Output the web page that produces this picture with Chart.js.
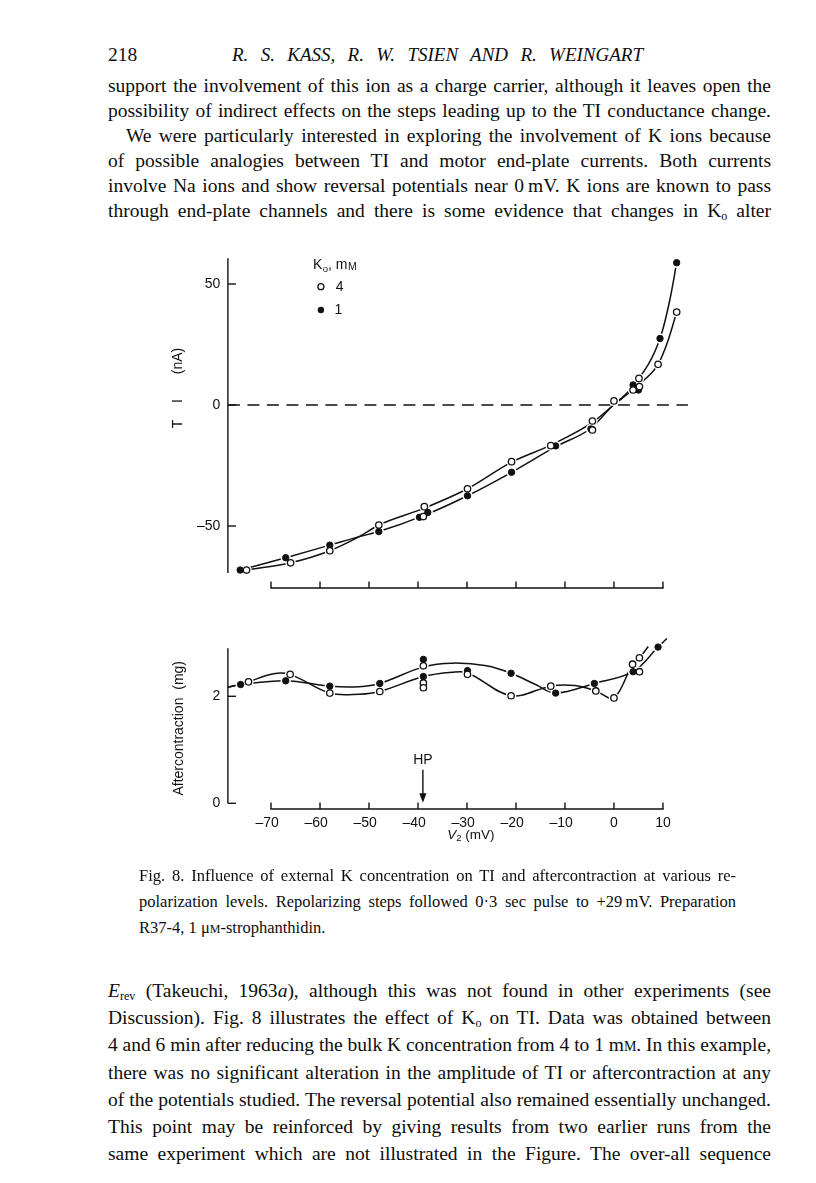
<!DOCTYPE html>
<html><head><meta charset="utf-8">
<script src="https://cdn.jsdelivr.net/npm/chart.js@4.4.1/dist/chart.umd.min.js"></script>
<style>
html,body{margin:0;padding:0;background:#fff;}
body{width:816px;height:1183px;position:relative;overflow:hidden;font-family:"Liberation Serif","Times New Roman",serif;color:#0d0d0d;}
.ln{position:absolute;left:108px;width:663px;font-size:19.5px;line-height:22px;text-align:justify;text-align-last:justify;}
.cap{position:absolute;left:139px;width:597px;font-size:16.5px;line-height:18px;text-align:justify;text-align-last:justify;}
.left{text-align-last:left;}
sub{font-size:0.62em;vertical-align:-0.28em;line-height:0;}
.sc{font-variant:small-caps;}
canvas{position:absolute;left:0;}
</style></head><body>

<div class="ln left" style="top:44px;">218</div>
<div class="ln fit" style="top:44px;left:232px;width:411px;font-style:italic;font-size:19px;">R. S. KASS, R. W. TSIEN AND R. WEINGART</div>

<div class="ln fit" style="top:75px;">support the involvement of this ion as a charge carrier, although it leaves open the</div>
<div class="ln fit" style="top:100px;">possibility of indirect effects on the steps leading up to the TI conductance change.</div>
<div class="ln fit" style="top:125px;left:126px;width:645px;">We were particularly interested in exploring the involvement of K ions because</div>
<div class="ln fit" style="top:150px;">of possible analogies between TI and motor end-plate currents. Both currents</div>
<div class="ln fit" style="top:175px;">involve Na ions and show reversal potentials near 0&#8201;mV. K ions are known to pass</div>
<div class="ln fit" style="top:200px;">through end-plate channels and there is some evidence that changes in K<sub>o</sub> alter</div>

<canvas id="ti" width="816" height="420" style="top:200px;"></canvas>
<canvas id="ac" width="816" height="260" style="top:600px;"></canvas>

<div class="cap fit" style="top:867px;">Fig. 8. Influence of external K concentration on TI and aftercontraction at various re-</div>
<div class="cap fit" style="top:893px;">polarization levels. Repolarizing steps followed 0·3 sec pulse to +29&#8201;mV. Preparation</div>
<div class="cap left" style="top:919px;">R37-4, 1 μ<span class="sc">m</span>-strophanthidin.</div>

<div class="ln fit" style="top:980px;"><i>E</i><sub>rev</sub> (Takeuchi, 1963<i>a</i>), although this was not found in other experiments (see</div>
<div class="ln fit" style="top:1007px;">Discussion). Fig. 8 illustrates the effect of K<sub>o</sub> on TI. Data was obtained between</div>
<div class="ln fit" style="top:1034px;">4 and 6 min after reducing the bulk K concentration from 4 to 1 m<span class="sc">m</span>. In this example,</div>
<div class="ln fit" style="top:1062px;">there was no significant alteration in the amplitude of TI or aftercontraction at any</div>
<div class="ln fit" style="top:1089px;">of the potentials studied. The reversal potential also remained essentially unchanged.</div>
<div class="ln fit" style="top:1116px;">This point may be reinforced by giving results from two earlier runs from the</div>
<div class="ln fit" style="top:1143px;">same experiment which are not illustrated in the Figure. The over-all sequence</div>

<script>
// justify each printed line to its measure
document.querySelectorAll('.fit').forEach(el => {
  el.style.whiteSpace = 'nowrap'; el.style.textAlign = 'left'; el.style.textAlignLast = 'left';
  const span = document.createElement('span');
  while (el.firstChild) span.appendChild(el.firstChild);
  el.appendChild(span);
  const target = el.clientWidth, nat = span.getBoundingClientRect().width;
  const spaces = (span.textContent.match(/ /g) || []).length;
  if (nat < target && spaces) el.style.wordSpacing = ((target - nat) / spaces) + 'px';
  else if (nat > target) el.style.letterSpacing = ((target - nat) / span.textContent.length) + 'px';
});
</script>

<script>
// ---------------- DATA ----------------
// shared x axis: repolarization potential V2 (mV)
const X_TICKS = [-70, -60, -50, -40, -30, -20, -10, 0, 10];
const HP_V2 = -39;                 // holding potential marker

// Top panel: TI (nA)
const TI_TICKS = [-50, 0, 50];
const V2_TI_K4 = [-75.0, -66.0, -58.0, -48.0, -38.7, -38.9, -29.9, -20.9, -12.9, -4.4, -4.4, 0.0, 3.9, 5.2, 5.1, 9.0, 12.8];
const TI_K4    = [-68.2, -65.2, -60.2, -49.6, -42.0, -46.1, -34.6, -23.4, -16.8, -6.6, -10.3, 1.7, 6.2, 7.6, 11.0, 16.8, 38.4];
const V2_TI_K1 = [-76.3, -67.0, -58.0, -48.0, -39.7, -38.0, -29.9, -20.9, -11.9, -4.7, 3.9, 5.0, 9.4, 12.8];
const TI_K1    = [-68.2, -63.1, -57.9, -52.3, -46.4, -44.4, -37.5, -27.8, -16.9, -9.9, 8.3, 6.2, 27.5, 58.8];
// hand-drawn curves through the points
const V2_TI_FIT_K4 = [-75.0, -66.0, -58.0, -52.0, -48.0, -38.7, -29.9, -20.9, -12.9, -4.4, -0.5, 5.1, 9.0, 11.1, 12.8];
const TI_FIT_K4    = [-68.2, -65.2, -60.2, -54.4, -49.6, -42.6, -34.6, -23.6, -16.6, -7.2, -0.7, 8.6, 16.8, 27.0, 38.4];
const V2_TI_FIT_K1 = [-76.3, -67.0, -58.0, -52.0, -48.0, -38.5, -29.9, -20.9, -11.9, -4.7, -0.5, 3.9, 9.4, 11.4, 12.8];
const TI_FIT_K1    = [-68.2, -63.1, -57.9, -54.4, -52.3, -45.4, -37.5, -27.8, -17.2, -9.6, -0.7, 7.8, 27.5, 43.4, 58.8];
const ZERO_LINE_V2 = [-78.8, 15.1];

// Bottom panel: aftercontraction (mg)
const AC_TICKS = [0, 2];
const V2_AC_K4 = [-74.6, -66.1, -58.0, -47.8, -38.9, -38.9, -38.9, -29.9, -21.0, -12.9, -3.7, 0.0, 3.8, 5.2, 5.2];
const AC_K4    = [2.27, 2.41, 2.06, 2.09, 2.57, 2.25, 2.16, 2.41, 2.01, 2.19, 2.10, 1.97, 2.60, 2.46, 2.72];
const V2_AC_K1 = [-76.2, -67.0, -58.0, -47.8, -38.9, -38.9, -29.9, -21.0, -11.9, -4.0, 3.9, 9.0];
const AC_K1    = [2.22, 2.29, 2.19, 2.24, 2.69, 2.37, 2.48, 2.43, 2.06, 2.24, 2.46, 2.92];
const V2_AC_FIT_K4 = [-78.8, -76.2, -74.6, -69.5, -66.1, -58.0, -52.0, -47.8, -38.9, -33.0, -29.9, -21.0, -12.9, -8.0, -3.7, 0.0, 3.8, 5.2, 7.0];
const AC_FIT_K4    = [2.17, 2.22, 2.27, 2.42, 2.41, 2.06, 2.04, 2.09, 2.37, 2.45, 2.44, 2.01, 2.19, 2.20, 2.10, 1.97, 2.60, 2.72, 2.93];
const V2_AC_FIT_K1 = [-78.8, -76.2, -67.0, -58.0, -52.0, -47.8, -38.9, -33.0, -26.0, -21.0, -16.0, -11.9, -4.0, 3.9, 9.0, 10.8];
const AC_FIT_K1    = [2.17, 2.22, 2.29, 2.19, 2.18, 2.24, 2.55, 2.62, 2.57, 2.43, 2.22, 2.06, 2.24, 2.46, 2.92, 3.08];

// ---------------- RENDERING ----------------
const INK = '#111';
const SANS = '"Liberation Sans", Arial, sans-serif';
const pts = (xs, ys) => xs.map((x, i) => ({x, y: ys[i]}));
const fmt = v => v < 0 ? '\u2013' + Math.abs(v) : String(v);

function pointSet(data, filled) {
  return {data, showLine: false, pointRadius: 3.2, pointHoverRadius: 3.2,
    pointBackgroundColor: filled ? INK : '#fff', pointBorderColor: INK,
    pointBorderWidth: filled ? 1 : 1.3, order: 0, clip: false};
}
function haloSet(data) {
  return {data, showLine: false, pointRadius: 5.2, pointHoverRadius: 5.2,
    pointBackgroundColor: '#fff', pointBorderWidth: 0, pointBorderColor: '#fff', order: 1, clip: false};
}
function curveSet(data, mono) {
  const d = {data, showLine: true, pointRadius: 0, borderColor: INK, borderWidth: 1.5,
    fill: false, order: 2, clip: false};
  if (mono) d.cubicInterpolationMode = 'monotone'; else d.tension = 0.35;
  return d;
}

function seg(ctx, x1, y1, x2, y2) { ctx.beginPath(); ctx.moveTo(x1, y1); ctx.lineTo(x2, y2); ctx.stroke(); }
function rotText(ctx, txt, cx, cy) {
  ctx.save(); ctx.translate(cx, cy); ctx.rotate(-Math.PI / 2);
  ctx.textAlign = 'center'; ctx.textBaseline = 'middle'; ctx.fillText(txt, 0, 0); ctx.restore();
}

function makeFrame(yLine, yTicks, extra) {
  return {
    id: 'frame',
    afterDraw(chart) {
      const {ctx, chartArea: ca} = chart;
      const x = chart.scales.x, y = chart.scales.y;
      ctx.save();
      ctx.strokeStyle = INK; ctx.fillStyle = INK; ctx.lineWidth = 1.4;
      seg(ctx, ca.left, y.getPixelForValue(yLine[1]), ca.left, y.getPixelForValue(yLine[0]));
      yTicks.forEach(v => { const p = y.getPixelForValue(v); seg(ctx, ca.left, p, ca.left + 8, p); });
      const xs = X_TICKS.map(v => x.getPixelForValue(v));
      seg(ctx, xs[0] - 0.7, ca.bottom, xs[xs.length - 1] + 0.7, ca.bottom);
      xs.forEach(p => seg(ctx, p, ca.bottom, p, ca.bottom - 6.5));
      extra(chart, ctx, x, y, ca);
      ctx.restore();
    }
  };
}

function baseOptions(yMin, yMax, yTicks, pad, xDisplay) {
  return {
    responsive: false, animation: false, devicePixelRatio: 1, events: [],
    layout: {padding: pad},
    plugins: {legend: {display: false}, tooltip: {enabled: false}},
    scales: {
      x: {type: 'linear', min: -78.8, max: 15.5, display: xDisplay,
        grid: {display: false, drawTicks: false}, border: {display: false},
        afterBuildTicks: s => { s.ticks = X_TICKS.map(v => ({value: v})); },
        afterFit: s => { s.height = xDisplay ? 30 : 0; },
        ticks: {autoSkip: false, maxRotation: 0, padding: 6, color: INK,
          font: {family: SANS, size: 14},
          callback: v => v < 0 ? '\u2013' + Math.abs(v) + '\u2007' : String(v)}},
      y: {type: 'linear', min: yMin, max: yMax, position: 'left',
        grid: {display: false, drawTicks: false}, border: {display: false},
        afterBuildTicks: s => { s.ticks = yTicks.map(v => ({value: v})); },
        afterFit: s => { s.width = 60; },
        ticks: {padding: 7.5, color: INK, font: {family: SANS, size: 14}, callback: v => fmt(v)}}
    }
  };
}

// ---- Top chart: TI ----
const tiExtra = (chart, ctx, x, y, ca) => {
  ctx.font = '14px ' + SANS;
  const y0 = y.getPixelForValue(0), tx = ca.left - 50;
  rotText(ctx, '(nA)', tx, y0 - 44);
  rotText(ctx, 'I', tx, y0 - 4);
  rotText(ctx, 'T', tx, y0 + 19);
  // legend
  const lx = ca.left + 85, ly = ca.top + 8;
  ctx.textAlign = 'left'; ctx.textBaseline = 'middle';
  ctx.fillText('K', lx, ly);
  let w = ctx.measureText('K').width;
  ctx.font = '9.5px ' + SANS; ctx.fillText('o', lx + w + 0.5, ly + 4);
  w += ctx.measureText('o').width + 0.5;
  ctx.font = '14px ' + SANS; ctx.fillText(', m', lx + w, ly);
  w += ctx.measureText(', m').width;
  ctx.font = '10.5px ' + SANS; ctx.textBaseline = 'alphabetic';
  ctx.fillText('M', lx + w + 0.5, ly + 5);
  ctx.font = '14px ' + SANS; ctx.textBaseline = 'middle';
  const mx = ca.left + 93;
  ctx.lineWidth = 1.3;
  ctx.beginPath(); ctx.arc(mx, ca.top + 29.3, 3, 0, Math.PI * 2); ctx.fillStyle = '#fff'; ctx.fill(); ctx.stroke();
  ctx.fillStyle = INK;
  ctx.beginPath(); ctx.arc(mx, ca.top + 52.6, 3.2, 0, Math.PI * 2); ctx.fill();
  ctx.fillText('4', ca.left + 107.8, ca.top + 29.3);
  ctx.fillText('1', ca.left + 106.5, ca.top + 52.6);
};

new Chart(document.getElementById('ti'), {
  type: 'scatter',
  data: {datasets: [
    pointSet(pts(V2_TI_K4, TI_K4), false),
    pointSet(pts(V2_TI_K1, TI_K1), true),
    haloSet(pts(V2_TI_K4, TI_K4).concat(pts(V2_TI_K1, TI_K1))),
    curveSet(pts(V2_TI_FIT_K4, TI_FIT_K4), true),
    curveSet(pts(V2_TI_FIT_K1, TI_FIT_K1), true),
    {data: ZERO_LINE_V2.map(v => ({x: v, y: 0})), showLine: true, pointRadius: 0,
      borderColor: INK, borderWidth: 1.3, borderDash: [12, 7.5], order: 3, clip: false}
  ]},
  options: baseOptions(-75.62, 61, TI_TICKS, {left: 167.9, right: 126.1, top: 57.4, bottom: 32}, false),
  plugins: [makeFrame([-69.4, 60.7], TI_TICKS, tiExtra)]
});

// ---- Bottom chart: aftercontraction ----
const acExtra = (chart, ctx, x, y, ca) => {
  ctx.font = '14px ' + SANS;
  const y0 = y.getPixelForValue(0);
  rotText(ctx, 'Aftercontraction  (mg)', ca.left - 49, y0 - 75);
  const hx = x.getPixelForValue(HP_V2);
  ctx.textAlign = 'center'; ctx.textBaseline = 'middle';
  ctx.fillText('HP', hx, y0 - 43.3);
  ctx.lineWidth = 1.4;
  seg(ctx, hx, y0 - 33.5, hx, y0 - 8);
  ctx.beginPath(); ctx.moveTo(hx, y0 - 0.5); ctx.lineTo(hx - 3.6, y0 - 10); ctx.lineTo(hx + 3.6, y0 - 10); ctx.closePath(); ctx.fill();
  const parts = [['V', 'italic 13.5px ' + SANS, 0], ['2', '9.5px ' + SANS, 3], [' (mV)', '13.5px ' + SANS, 0]];
  let tw = 0; parts.forEach(p => { ctx.font = p[1]; tw += ctx.measureText(p[0]).width; });
  let cx = x.getPixelForValue(-29.2) - tw / 2;
  const ty = ca.bottom + 26;
  ctx.textAlign = 'left';
  parts.forEach(p => { ctx.font = p[1]; ctx.fillText(p[0], cx, ty + p[2]); cx += ctx.measureText(p[0]).width; });
};

new Chart(document.getElementById('ac'), {
  type: 'scatter',
  data: {datasets: [
    pointSet(pts(V2_AC_K4, AC_K4), false),
    pointSet(pts(V2_AC_K1, AC_K1), true),
    haloSet(pts(V2_AC_K4, AC_K4).concat(pts(V2_AC_K1, AC_K1))),
    curveSet(pts(V2_AC_FIT_K4, AC_FIT_K4), false),
    curveSet(pts(V2_AC_FIT_K1, AC_FIT_K1), false)
  ]},
  options: baseOptions(-0.1065, 3.1, AC_TICKS, {left: 167.9, right: 126.1, top: 37.45, bottom: 21}, true),
  plugins: [makeFrame([0, 2.9], AC_TICKS, acExtra)]
});
</script>
</body></html>
